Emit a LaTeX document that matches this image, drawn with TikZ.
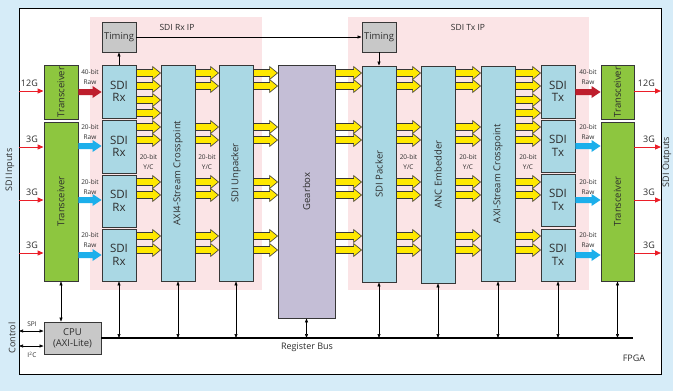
\documentclass[tikz,border=0pt]{standalone}
\usepackage{fontspec}
\usepackage{graphicx}
\setmainfont{Open Sans}
\usetikzlibrary{arrows.meta,calc}

\definecolor{bgblue}{RGB}{214,236,248}
\definecolor{pinkbg}{RGB}{251,228,230}
\definecolor{boxblue}{RGB}{170,216,228}
\definecolor{trgreen}{RGB}{141,198,63}
\definecolor{gearlav}{RGB}{196,190,214}
\definecolor{timgray}{RGB}{200,200,200}
\definecolor{yarr}{RGB}{255,232,0}
\definecolor{darkredarr}{RGB}{190,30,45}
\definecolor{cyanarr}{RGB}{28,175,235}
\definecolor{thinred}{RGB}{235,30,40}
\definecolor{edgec}{RGB}{55,55,55}
\definecolor{txt}{RGB}{45,45,45}

\newcommand\mkbox[7]{%
  \node[#2, minimum width={(#5-#3)*1pt}, minimum height={(#6-#4)*1pt}] (#1)
    at ({(#3+#5)/2},{(#4+#6)/2}) {#7};}

% generic block arrow: style, shaft half, head half, head length, from, to, y
\newcommand\blockarr[7]{%
  \path[#1] let \p0=(0,#7), \p1=(#5.east), \p2=(#6.west) in
    (\x1,\y0+#2pt) -- (\x2-#4pt,\y0+#2pt) -- (\x2-#4pt,\y0+#3pt) -- (\x2,\y0)
    -- (\x2-#4pt,\y0-#3pt) -- (\x2-#4pt,\y0-#2pt) -- (\x1,\y0-#2pt) -- cycle;}
\newcommand\yarrow[3]{\blockarr{yarrst}{3.5}{6.5}{8}{#1}{#2}{#3}}
\newcommand\rarrow[3]{\blockarr{fill=darkredarr}{3}{6}{9}{#1}{#2}{#3}}
\newcommand\carrow[3]{\blockarr{fill=cyanarr}{3}{6}{9}{#1}{#2}{#3}}

\begin{document}
\begin{tikzpicture}[x=1pt,y=-1pt,
  blk/.style={draw=edgec, line width=0.9pt, inner sep=0pt, text=txt, align=center},
  bbox/.style={blk, fill=boxblue, font=\fontsize{11.5}{12.5}\selectfont},
  vbox/.style={blk, fill=boxblue, font=\fontsize{9.5}{11}\selectfont},
  gbox/.style={blk, fill=trgreen, font=\fontsize{9.5}{11}\selectfont},
  lbox/.style={blk, fill=gearlav, font=\fontsize{9.5}{11}\selectfont},
  tbox/.style={blk, fill=timgray, font=\fontsize{9.5}{11}\selectfont},
  yarrst/.style={fill=yarr, draw=edgec, line width=0.6pt, line join=miter},
  lab/.style={text=txt, inner sep=0pt, align=center},
  small/.style={lab, font=\fontsize{6.5}{9.5}\selectfont},
  thinarr/.style={draw=thinred, line width=1pt, -{Triangle[length=6pt,width=5pt]}},
  busarr/.style={draw=black, line width=0.6pt, {Triangle[length=4pt,width=3pt]}-{Triangle[length=4pt,width=3pt]}},
  timarr/.style={draw=black, line width=0.7pt, -{Triangle[length=4pt,width=3pt]}}
]
\useasboundingbox (0,0) rectangle (673,391);
\fill[bgblue] (0,0) rectangle (673,391);
\node[draw=black, fill=white, line width=1pt, minimum width=642pt, minimum height=366pt, inner sep=0pt] (fpga) at (340,191) {};

% IP regions
\fill[pinkbg] (90,17) rectangle (262,290);
\fill[pinkbg] (348,17) rectangle (589,290);
\node[lab, font=\fontsize{8.5}{10}\selectfont] (rxip) at (177,27) {SDI Rx IP};
\node[lab, font=\fontsize{8.5}{10}\selectfont] (txip) at (468,27) {SDI Tx IP};

% boxes
\mkbox{tl1}{gbox}{44}{65}{78}{119}{\rotatebox{90}{Transceiver}}
\mkbox{tl2}{gbox}{44}{122}{78}{281}{\rotatebox{90}{Transceiver}}
\mkbox{rx1}{bbox}{102}{65}{136}{118}{SDI\\Rx}
\mkbox{rx2}{bbox}{102}{120}{136}{173}{SDI\\Rx}
\mkbox{rx3}{bbox}{102}{175}{136}{227}{SDI\\Rx}
\mkbox{rx4}{bbox}{102}{229}{136}{281}{SDI\\Rx}
\mkbox{xpr}{vbox}{161}{65}{195}{281}{\rotatebox{90}{AXI4-Stream Crosspoint}}
\mkbox{unp}{vbox}{219}{65}{253}{281}{\rotatebox{90}{SDI Unpacker}}
\mkbox{gear}{lbox}{278}{65}{335}{318}{\rotatebox{90}{Gearbox}}
\mkbox{pack}{vbox}{362}{66}{396}{282}{\rotatebox{90}{SDI Packer}}
\mkbox{anc}{vbox}{421}{66}{455}{283}{\rotatebox{90}{ANC Embedder}}
\mkbox{xpt}{vbox}{481}{66}{515}{281}{\rotatebox{90}{AXI-Stream Crosspoint}}
\mkbox{tx1}{bbox}{541}{65}{575}{118}{SDI\\Tx}
\mkbox{tx2}{bbox}{541}{120}{575}{172}{SDI\\Tx}
\mkbox{tx3}{bbox}{541}{174}{575}{226}{SDI\\Tx}
\mkbox{tx4}{bbox}{541}{229}{575}{281}{SDI\\Tx}
\mkbox{tr1}{gbox}{601}{65}{634}{119}{\rotatebox{90}{Transceiver}}
\mkbox{tr2}{gbox}{601}{122}{634}{281}{\rotatebox{90}{Transceiver}}
\mkbox{timrx}{tbox}{102}{22}{136}{52}{Timing}
\mkbox{timtx}{tbox}{362}{22}{396}{52}{Timing}
\mkbox{cpu}{tbox}{44}{322}{101}{354}{CPU\\(AXI-Lite)}

% timing connections
\draw[timarr] (rx1.north) -- (timrx.south);
\draw[timarr] (timtx.south) -- (pack.north);
\draw[timarr] (timrx.east) -- (timtx.west);

% yellow arrows
\foreach \yy in {73,86,100,113} {\yarrow{rx1}{xpr}{\yy}}
\foreach \yy in {127,140} {\yarrow{rx2}{xpr}{\yy}}
\foreach \yy in {182,195} {\yarrow{rx3}{xpr}{\yy}}
\foreach \yy in {236,250} {\yarrow{rx4}{xpr}{\yy}}
\foreach \aa/\bb in {xpr/unp,unp/gear,gear/pack,pack/anc,anc/xpt} {
  \foreach \yy in {73,86,127,140,182,195,236,250} {\yarrow{\aa}{\bb}{\yy}}
}
\foreach \yy in {73,86,100,113} {\yarrow{xpt}{tx1}{\yy}}
\foreach \yy in {127,140} {\yarrow{xpt}{tx2}{\yy}}
\foreach \yy in {182,195} {\yarrow{xpt}{tx3}{\yy}}
\foreach \yy in {236,250} {\yarrow{xpt}{tx4}{\yy}}

% raw arrows
\rarrow{tl1}{rx1}{92}
\carrow{tl2}{rx2}{146}
\carrow{tl2}{rx3}{200}
\carrow{tl2}{rx4}{255}
\rarrow{tx1}{tr1}{92}
\carrow{tx2}{tr2}{146}
\carrow{tx3}{tr2}{200}
\carrow{tx4}{tr2}{255}

% raw labels
\foreach \xx in {90,588} {
  \node[small] at (\xx,77) {40-bit\\Raw};
  \node[small] at (\xx,132) {20-bit\\Raw};
  \node[small] at (\xx,187) {20-bit\\Raw};
  \node[small] at (\xx,240) {20-bit\\Raw};
}
\foreach \xx in {148.5,207,408.5,468,528} {
  \node[small] at (\xx,162) {20-bit\\Y/C};
}

% inputs / outputs
\coordinate (i1) at (19,91);
\coordinate (i2) at (19,147);
\coordinate (i3) at (19,200);
\coordinate (i4) at (19,253);
\coordinate (o1) at (661,91);
\coordinate (o2) at (661,147);
\coordinate (o3) at (661,200);
\coordinate (o4) at (661,253);
\draw[thinarr] (i1) -- (i1 -| tl1.west);
\draw[thinarr] (i2) -- (i2 -| tl2.west);
\draw[thinarr] (i3) -- (i3 -| tl2.west);
\draw[thinarr] (i4) -- (i4 -| tl2.west);
\draw[thinarr] (o1 -| tr1.east) -- (o1);
\draw[thinarr] (o2 -| tr2.east) -- (o2);
\draw[thinarr] (o3 -| tr2.east) -- (o3);
\draw[thinarr] (o4 -| tr2.east) -- (o4);
\begin{scope}[every node/.style={lab, font=\fontsize{9}{10}\selectfont}]
\node[anchor=east] at (38,83) {12G};
\node[anchor=east] at (38,139) {3G};
\node[anchor=east] at (38,192) {3G};
\node[anchor=east] at (38,245) {3G};
\node[anchor=east] at (655,83) {12G};
\node[anchor=east] at (655,139) {3G};
\node[anchor=east] at (655,192) {3G};
\node[anchor=east] at (655,245) {3G};
\node[rotate=90] at (10,170) {SDI Inputs};
\node[rotate=90] at (667,162) {SDI Outputs};
\node[rotate=90] at (12,338) {Control};
\node at (307,347) {Register Bus};
\node at (634,358) {FPGA};
\end{scope}

% register bus
\coordinate (busend) at (633,338);
\draw[line width=2.6pt] (cpu.east) -- (cpu.east -| busend);
\foreach \bb in {rx4,xpr,unp,gear,pack,anc,xpt,tx4,tr2} {
  \draw[busarr] (\bb.south) -- (\bb.south |- busend);
}
\draw[busarr] (tl2.south) -- (tl2.south |- cpu.north);

% control
\coordinate (spi) at (19,331);
\coordinate (iic) at (19,346);
\draw[busarr] (spi) -- (spi -| cpu.west);
\draw[busarr] (iic) -- (iic -| cpu.west);
\node[small] at (32,324) {SPI};
\node[small] at (32,355) {I\textsuperscript{2}C};
\end{tikzpicture}
\end{document}
